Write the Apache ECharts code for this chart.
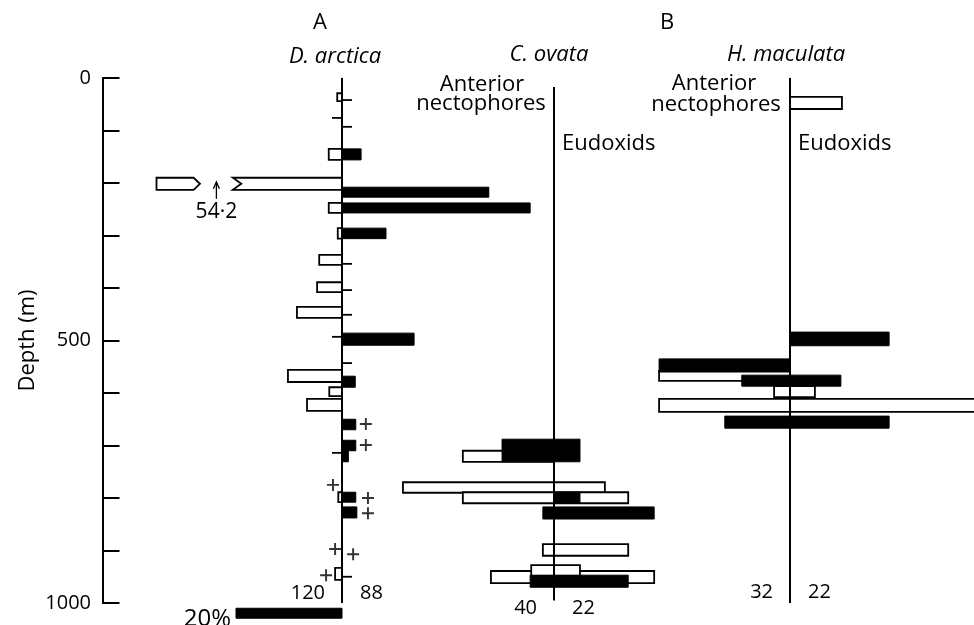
<!DOCTYPE html>
<html>
<head>
<meta charset="utf-8">
<script src="https://cdn.jsdelivr.net/npm/echarts@6/dist/echarts.min.js"></script>
<style>
html,body{margin:0;padding:0;background:#fff;}
#chart{width:974px;height:625px;}
</style>
</head>
<body>
<div id="chart"></div>
<script>
// ---------------- DATA ----------------
// depth axis (m)
const depthMin = 0, depthMax = 1000, depthStep = 100;
const depthLabels = [0, 500, 1000];

// D. arctica (A): [top depth, bottom depth, % of catch]
const arcticaNecto = [[29,44,0.9],[135,156,2.5],[190,213,54.2],[238,257,2.5],[286,306,0.8],[337,356,4.3],[389,408,4.7],[436,457,8.5],[556,579,10.2],[589,606,2.4],[611,634,6.6],[789,808,0.7],[933,956,1.3]];
const arcticaEudox = [[135,156,3.6],[208,227,27.7],[238,257,35.5],[286,306,8.3],[486,509,13.6],[568,589,2.5],[650,670,2.6],[690,710,2.6],[710,731,1.2],[789,808,2.6],[817,838,2.8]];
// "+" marks: [% position, depth]
const arcticaPlus = [[4.5,659],[4.5,699],[-1.7,775],[4.9,800],[4.9,829],[-1.3,897],[2.1,907],[-3.0,947]];
// sample marks on D. arctica centre line: [depth, side]
const arcticaMarks = [[42,1],[76,-1],[93,1],[354,1],[404,1],[451,1],[493,-1],[543,1],[714,-1],[950,1]];

// C. ovata: [top depth, bottom depth, from %, to %]
const ovataNecto = [[710,731,-17.2,0],[770,790,-28.5,9.6],[789,810,-17.2,14.0],[888,910,-2.1,14.0],[939,962,-11.9,18.9],[928,949,-4.3,4.9]];
const ovataEudox = [[688,731,-9.8,4.9],[789,810,0,4.9],[817,840,-2.1,18.9],[947,970,-4.5,14.0]];

// H. maculata: [top depth, bottom depth, from %, to %]
const maculataNecto = [[36,59,0,9.8],[558,577,-24.7,0],[587,608,-3.0,4.7],[611,636,-24.7,42]];
const maculataEudox = [[484,510,0,18.7],[535,560,-24.7,0],[566,587,-9.1,9.6],[644,667,-12.3,18.7]];

// totals under each column: [label depth, anterior nectophores, eudoxids]
const arcticaTotals = [[981,120,88]];
const ovataTotals = [[1010,40,22]];
const maculataTotals = [[979,32,22]];

// scale bar: [top depth, bottom depth, %]
const scaleBar = [[1010,1029,20]];

const species = ['D. arctica','C. ovata','H. maculata'];
const panels = ['A','B'];
const partLabels = ['Anterior','nectophores','Eudoxids'];

// ---------------- LAYOUT / STYLE ----------------
const FONT = '"Open Sans", "DejaVu Sans", sans-serif';
const PX_PER_PCT = 5.3;
const TOP = 78, HEIGHT = 525;
const centres = [342, 554, 790];
const halves = [40, 40, 34]; // % each side of centre line in each panel grid
const BREAK = {cap: 35, gapFrom: -20.6, gapTo: -26.8, notch: 1.6, tip: 1.2};

function colGrid(cx, h){ return {left: cx - h*PX_PER_PCT, top: TOP, width: 2*h*PX_PER_PCT, height: HEIGHT}; }

const grids = [{left: 102, top: TOP, width: 1, height: HEIGHT}].concat(centres.map((c,i)=>colGrid(c, halves[i])));

const xAxes = grids.map((g,i)=>{
  const h = i === 0 ? 40 : halves[i-1];
  return {type:'value', gridIndex:i, min:-h, max:h, show:false};
});
const yAxes = grids.map((g,i)=>{
  const base = {type:'value', gridIndex:i, min:depthMin, max:depthMax, interval:depthStep, inverse:true};
  if(i>0) return Object.assign(base,{show:false});
  return Object.assign(base,{
    position:'left',
    name:'Depth (m)', nameLocation:'middle', nameRotate:90, nameGap:63,
    nameTextStyle:{fontSize:22, fontFamily:FONT, color:'#000'},
    axisLine:{show:true, lineStyle:{color:'#000', width:2}},
    axisTick:{show:true, inside:true, length:17, lineStyle:{color:'#000', width:2}},
    axisLabel:{margin:11, fontSize:20, fontFamily:FONT, color:'#000',
      formatter: v => depthLabels.includes(v) ? String(v) : ''},
    splitLine:{show:false}
  });
});

function rectItem(api, from, to, top, bottom, filled){
  const p0 = api.coord([from, top]);
  const p1 = api.coord([to, bottom]);
  return {type:'rect',
    shape:{x:Math.min(p0[0],p1[0]), y:p0[1], width:Math.abs(p1[0]-p0[0]), height:p1[1]-p0[1]},
    style:{fill: filled ? '#000' : '#fff', stroke:'#000', lineWidth: filled ? 1 : 1.8}};
}

function barSeries(gi, data, filled, z){
  return {type:'custom', xAxisIndex:gi, yAxisIndex:gi, z:z, clip:false, silent:true,
    data: data,
    renderItem:(params, api)=> rectItem(api, api.value(2), api.value(3), api.value(0), api.value(1), filled)};
}

// D. arctica open bars (go left), with broken-bar handling
const arcticaNectoSeries = {type:'custom', xAxisIndex:1, yAxisIndex:1, z:2, clip:false, silent:true,
  data: arcticaNecto,
  renderItem:(params, api)=>{
    const top = api.value(0), bottom = api.value(1), v = api.value(2);
    if(v <= BREAK.cap) return rectItem(api, -v, 0, top, bottom, false);
    const y0 = api.coord([0, top])[1], y1 = api.coord([0, bottom])[1], ym = (y0+y1)/2;
    const X = p => api.coord([p, top])[0];
    const st = {fill:'#fff', stroke:'#000', lineWidth:1.8};
    const right = {type:'polygon', shape:{points:[[X(0),y0],[X(BREAK.gapFrom),y0],[X(BREAK.gapFrom+BREAK.notch),ym],[X(BREAK.gapFrom),y1],[X(0),y1]]}, style:st};
    const left = {type:'polygon', shape:{points:[[X(-BREAK.cap),y0],[X(BREAK.gapTo-BREAK.tip),y0],[X(BREAK.gapTo),ym],[X(BREAK.gapTo-BREAK.tip),y1],[X(-BREAK.cap),y1]]}, style:st};
    const ax = X((BREAK.gapFrom+BREAK.gapTo)/2);
    const arrow = {type:'polyline', shape:{points:[[ax, y1+9],[ax, y1-7]]}, style:{stroke:'#000', lineWidth:1.3, fill:null}};
    const head = {type:'polyline', shape:{points:[[ax-3, y1-1],[ax, y1-8],[ax+3, y1-1]]}, style:{stroke:'#000', lineWidth:1.3, fill:null}};
    const txt = {type:'text', x:ax, y:y1+22, style:{text:String(v).replace('.', '·'), font:'21px '+FONT, fill:'#000', align:'center', verticalAlign:'middle'}};
    return {type:'group', children:[right,left,arrow,head,txt]};
  }};

function centreLine(gi, start, end){
  return {type:'custom', xAxisIndex:gi, yAxisIndex:gi, z:3, clip:false, silent:true,
    data:[[start,end]],
    renderItem:(params, api)=>{
      const a = api.coord([0, api.value(0)]), b = api.coord([0, api.value(1)]);
      return {type:'line', shape:{x1:a[0], y1:a[1], x2:b[0], y2:b[1]}, style:{stroke:'#000', lineWidth:2}};
    }};
}

function totalsSeries(gi, data){
  return {type:'custom', xAxisIndex:gi, yAxisIndex:gi, z:5, clip:false, silent:true,
    data:data,
    renderItem:(params, api)=>{
      const p = api.coord([0, api.value(0)]);
      const f = '20px '+FONT;
      return {type:'group', children:[
        {type:'text', x:p[0]-17, y:p[1], style:{text:String(api.value(1)), font:f, fill:'#000', align:'right', verticalAlign:'middle'}},
        {type:'text', x:p[0]+18, y:p[1], style:{text:String(api.value(2)), font:f, fill:'#000', align:'left', verticalAlign:'middle'}}
      ]};
    }};
}

const series = [
  arcticaNectoSeries,
  barSeries(1, arcticaEudox.map(d=>[d[0],d[1],0,d[2]]), true, 4),
  centreLine(1, 0, 1000),
  {type:'custom', xAxisIndex:1, yAxisIndex:1, z:3, clip:false, silent:true, data:arcticaMarks,
    renderItem:(params, api)=>{
      const p = api.coord([0, api.value(0)]);
      return {type:'line', shape:{x1:p[0], y1:p[1], x2:p[0]+api.value(1)*10, y2:p[1]}, style:{stroke:'#000', lineWidth:1.8}};
    }},
  {type:'scatter', xAxisIndex:1, yAxisIndex:1, z:5, silent:true, data:arcticaPlus,
    symbol:'path://M4.2,0H5.8V4.2H10V5.8H5.8V10H4.2V5.8H0V4.2H4.2Z', symbolSize:12,
    itemStyle:{color:'#000'}},
  {type:'custom', xAxisIndex:1, yAxisIndex:1, z:5, clip:false, silent:true, data:scaleBar,
    renderItem:(params, api)=>{
      const r = rectItem(api, -api.value(2), 0, api.value(0), api.value(1), true);
      const p = api.coord([-api.value(2), (api.value(0)+api.value(1))/2]);
      return {type:'group', children:[r,
        {type:'text', x:p[0]-5, y:p[1]+6, style:{text:api.value(2)+'%', font:'24px '+FONT, fill:'#000', align:'right', verticalAlign:'middle'}}]};
    }},
  totalsSeries(1, arcticaTotals),

  barSeries(2, ovataNecto, false, 2),
  centreLine(2, 17, 995),
  barSeries(2, ovataEudox, true, 4),
  totalsSeries(2, ovataTotals),

  barSeries(3, maculataNecto, false, 2),
  centreLine(3, 0, 1000),
  barSeries(3, maculataEudox, true, 4),
  totalsSeries(3, maculataTotals)
];

function txt(x, y, s, opt){
  return {type:'text', x:x, y:y, silent:true, style:Object.assign({text:s, font:'22px '+FONT, fill:'#000', align:'center', verticalAlign:'middle'}, opt||{})};
}
const ital = {font:'italic 22px '+FONT};
const graphics = [
  txt(320, 23, panels[0]),
  txt(667, 23, panels[1]),
  txt(335, 57, species[0], ital),
  txt(549, 55, species[1], ital),
  txt(786, 55, species[2], ital),
  txt(482, 85, partLabels[0]),
  txt(481, 104, partLabels[1]),
  txt(562, 144, partLabels[2], {align:'left'}),
  txt(714, 84, partLabels[0]),
  txt(716, 105, partLabels[1]),
  txt(798, 144, partLabels[2], {align:'left'})
];

const chart = echarts.init(document.getElementById('chart'), null, {renderer:'canvas'});
chart.setOption({
  animation:false,
  backgroundColor:'#fff',
  grid:grids,
  xAxis:xAxes,
  yAxis:yAxes,
  series:series,
  graphic:graphics
});
</script>
</body>
</html>
